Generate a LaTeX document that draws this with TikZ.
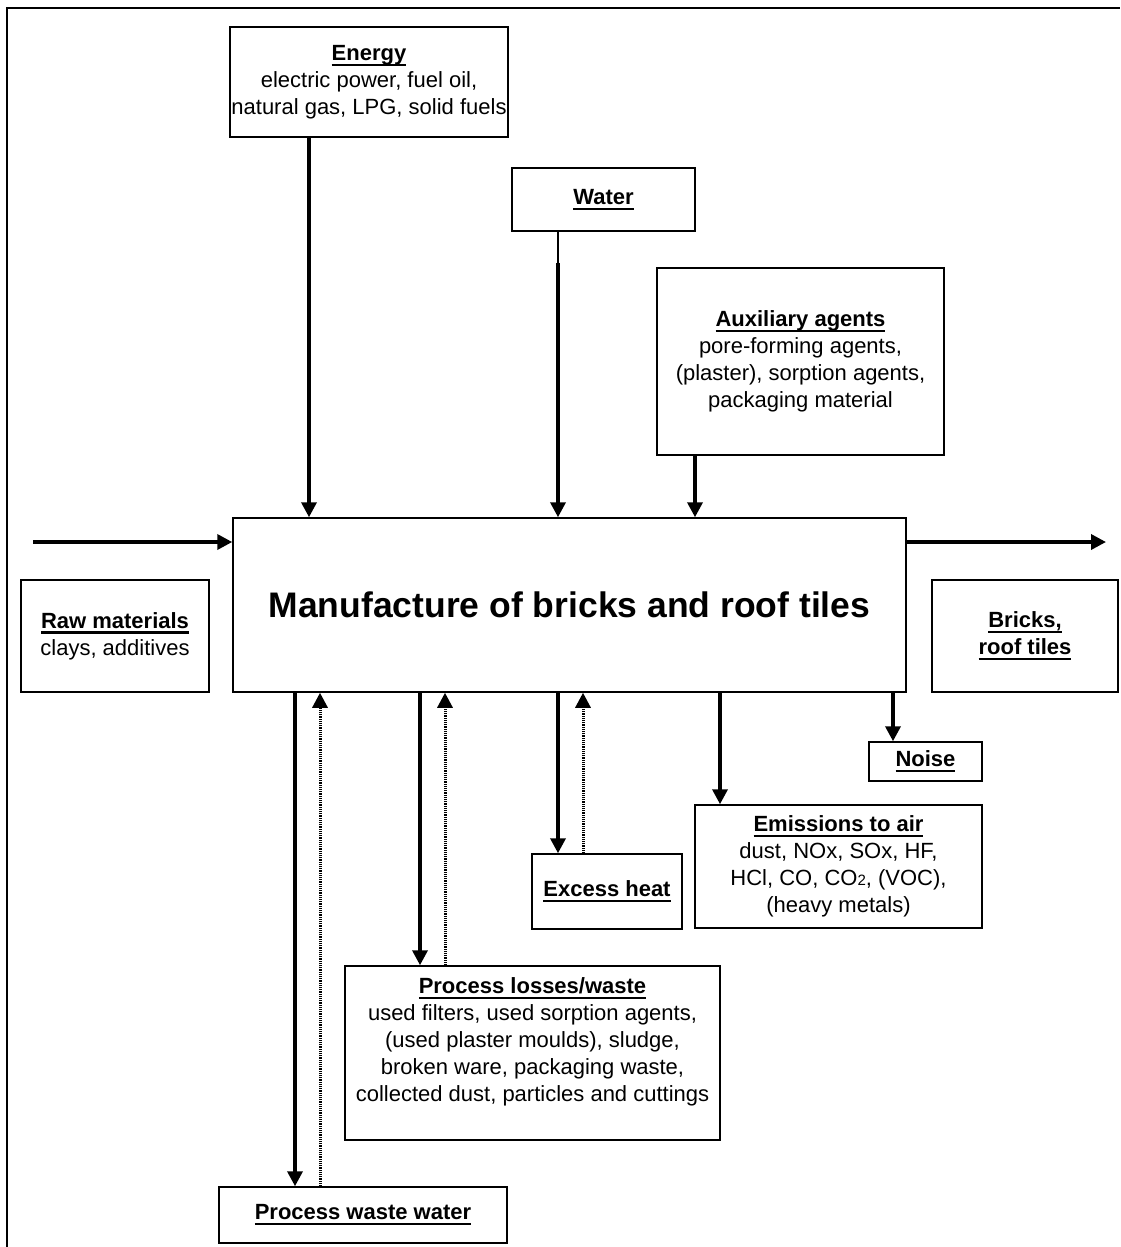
\documentclass[tikz,border=0pt]{standalone}
\usepackage{fontspec}
\setmainfont{Liberation Sans}
\usetikzlibrary{arrows.meta}
\newcommand{\uhead}[1]{{\setbox0=\hbox{\bfseries #1}\leavevmode\rlap{\rule[-5.5pt]{\wd0}{2.2pt}}\box0}}
\tikzset{
	box/.style={
		rectangle,
		draw=black,
		line width=1.5pt,
		inner sep=0pt,
		align=center,
		font=\fontsize{22}{27}\selectfont,
	},
	title/.style={
		box,
		font=\fontsize{35.5}{40}\selectfont\bfseries,
	},
	arrow/.style={
		-{Triangle[length=15pt,width=15pt]},
		line width=3.5pt,
	},
	backflow/.style={
		-{Triangle[length=15pt,width=15pt]},
		line width=3pt,
		dash pattern=on 1.2pt off 1pt,
	},
	feed/.style={
		line width=1.5pt,
	},
}

\begin{document}
\begin{tikzpicture}[x=1pt,y=-1pt]
		\useasboundingbox (0,0) rectangle (1120,1247);
		\draw[line width=2.8pt] (7,1247) -- (7,8) -- (1120,8);

		% main process
		\node[title, minimum width=673, minimum height=174] (main) at (569.5,605) {Manufacture of bricks and roof tiles};

		% inputs
		\node[box, minimum width=278, minimum height=110] (energy) at (369,82) {\uhead{Energy}\\ electric power, fuel oil,\\ natural gas, LPG, solid fuels};
		\node[box, minimum width=183, minimum height=63] (water) at (603.5,199.5) {\uhead{Water}};
		\node[box, minimum width=287, minimum height=187] (aux) at (800.5,361.5) {\uhead{Auxiliary agents}\\ pore-forming agents,\\ (plaster), sorption agents,\\ packaging material};
		\node[box, minimum width=188, minimum height=112] (raw) at (115,636) {\uhead{Raw materials}\\ clays, additives};

		% outputs
		\node[box, minimum width=186, minimum height=112] (bricks) at (1025,636) {\uhead{Bricks,}\\ \uhead{roof tiles}};
		\node[box, minimum width=113, minimum height=39] (noise) at (925.5,761.5) {\uhead{Noise}};
		\node[box, minimum width=287, minimum height=123] (emis) at (838.5,866.5) {\uhead{Emissions to air}\\ dust, NOx, SOx, HF,\\ HCl, CO, CO{\fontsize{15}{15}\selectfont 2}, (VOC),\\ (heavy metals)};
		\node[box, minimum width=150, minimum height=75] (heat) at (607,891.5) {\uhead{Excess heat}};
		\node[box, minimum width=375, minimum height=174] (losses) at (532.5,1053) {\uhead{Process losses/waste}\\ used filters, used sorption agents,\\ (used plaster moulds), sludge,\\ broken ware, packaging waste,\\ collected dust, particles and cuttings\\ ~};
		\node[box, minimum width=288, minimum height=56] (wastewater) at (363,1215) {\uhead{Process waste water}};

		% free ends of the main flow
		\coordinate (rawin) at (33,542);
		\coordinate (prodout) at (1106,542);
		\coordinate (wjoin) at ([xshift=-45.5pt,yshift=-31pt]water.south);

		\draw[arrow] (rawin) -- (rawin -| main.west);
		\draw[arrow] (prodout -| main.east) -- (prodout);

		\draw[arrow] ([xshift=-60pt]energy.south) -- ([xshift=-60pt]energy.south |- main.north);
		\draw[feed] ([xshift=-45.5pt]water.south) -- (wjoin);
		\draw[arrow] (wjoin) -- (wjoin |- main.north);
		\draw[arrow] ([xshift=-105.5pt]aux.south) -- ([xshift=-105.5pt]aux.south |- main.north);

		\draw[arrow] ([xshift=-32.5pt]noise.north |- main.south) -- ([xshift=-32.5pt]noise.north);
		\draw[arrow] ([xshift=-118.5pt]emis.north |- main.south) -- ([xshift=-118.5pt]emis.north);

		\draw[arrow] ([xshift=-49pt]heat.north |- main.south) -- ([xshift=-49pt]heat.north);
		\draw[backflow] ([xshift=-24pt]heat.north) -- ([xshift=-24pt]heat.north |- main.south);

		\draw[arrow] ([xshift=-112.5pt]losses.north |- main.south) -- ([xshift=-112.5pt]losses.north);
		\draw[backflow] ([xshift=-87.5pt]losses.north) -- ([xshift=-87.5pt]losses.north |- main.south);

		\draw[arrow] ([xshift=-68pt]wastewater.north |- main.south) -- ([xshift=-68pt]wastewater.north);
		\draw[backflow] ([xshift=-43pt]wastewater.north) -- ([xshift=-43pt]wastewater.north |- main.south);

	\end{tikzpicture}
\end{document}
